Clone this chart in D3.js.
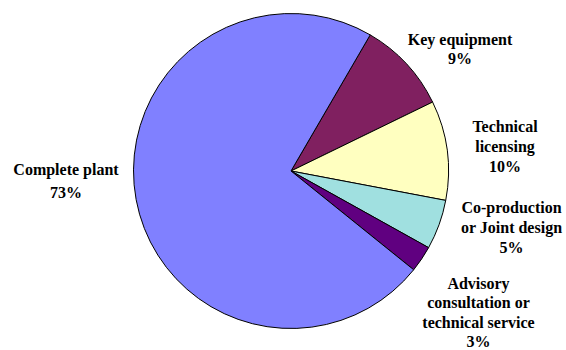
<!DOCTYPE html>
<html>
<head>
<meta charset="utf-8">
<script src="https://cdn.jsdelivr.net/npm/d3@7"></script>
<style>
  html, body { margin: 0; padding: 0; background: #fff; }
</style>
</head>
<body>
<svg id="chart" width="566" height="350"></svg>
<script>
// Data (clockwise starting from the Key equipment slice)
const categories = ["Key equipment", "Technical licensing", "Co-production or Joint design", "Advisory consultation or technical service", "Complete plant"];
const values = [9.4, 10.2, 5.1, 2.7, 72.6];
const colors = ["#802060", "#FFFFC0", "#A0E0E0", "#600080", "#8080FF"];
// label lines as shown in the chart
const labelLines = [
  ["Key equipment"],
  ["Technical", "licensing"],
  ["Co-production", "or Joint design"],
  ["Advisory", "consultation or", "technical service"],
  ["Complete plant"]
];
const labelAnchors = [ // label centre x and first baseline y
  [460, 44.5],
  [505, 132],
  [511.5, 212.5],
  [478.5, 289],
  [66, 175]
];
const lineSpacing = [19.8, 20.2, 20.2, 19.4, 22.5];

const svg = d3.select("#chart");
const cx = 291, cy = 171, r = 157.5;
const startDeg = 30.2;

const pie = d3.pie().sort(null).value(d => d)
  .startAngle(startDeg * Math.PI / 180)
  .endAngle(startDeg * Math.PI / 180 + 2 * Math.PI);
const arcs = pie(values);
const arc = d3.arc().innerRadius(0).outerRadius(r);

const g = svg.append("g").attr("transform", `translate(${cx},${cy})`);
g.selectAll("path").data(arcs).join("path")
  .attr("d", arc)
  .attr("fill", (d, i) => colors[i])
  .attr("stroke", "#000")
  .attr("stroke-width", 1)
  .attr("stroke-linejoin", "round");

const labels = svg.append("g");
arcs.forEach((a, i) => {
  const [x, y] = labelAnchors[i];
  const lines = labelLines[i].concat([Math.round(values[i]) + "%"]);
  const t = labels.append("text")
    .attr("text-anchor", "middle")
    .attr("font-family", "'Liberation Serif', 'Times New Roman', Times, 'DejaVu Serif', serif")
    .attr("font-weight", "bold")
    .attr("font-size", 16)
    .attr("fill", "#000");
  lines.forEach((ln, j) => {
    t.append("tspan").attr("x", x).attr("y", y + j * lineSpacing[i]).text(ln);
  });
});
</script>
</body>
</html>
